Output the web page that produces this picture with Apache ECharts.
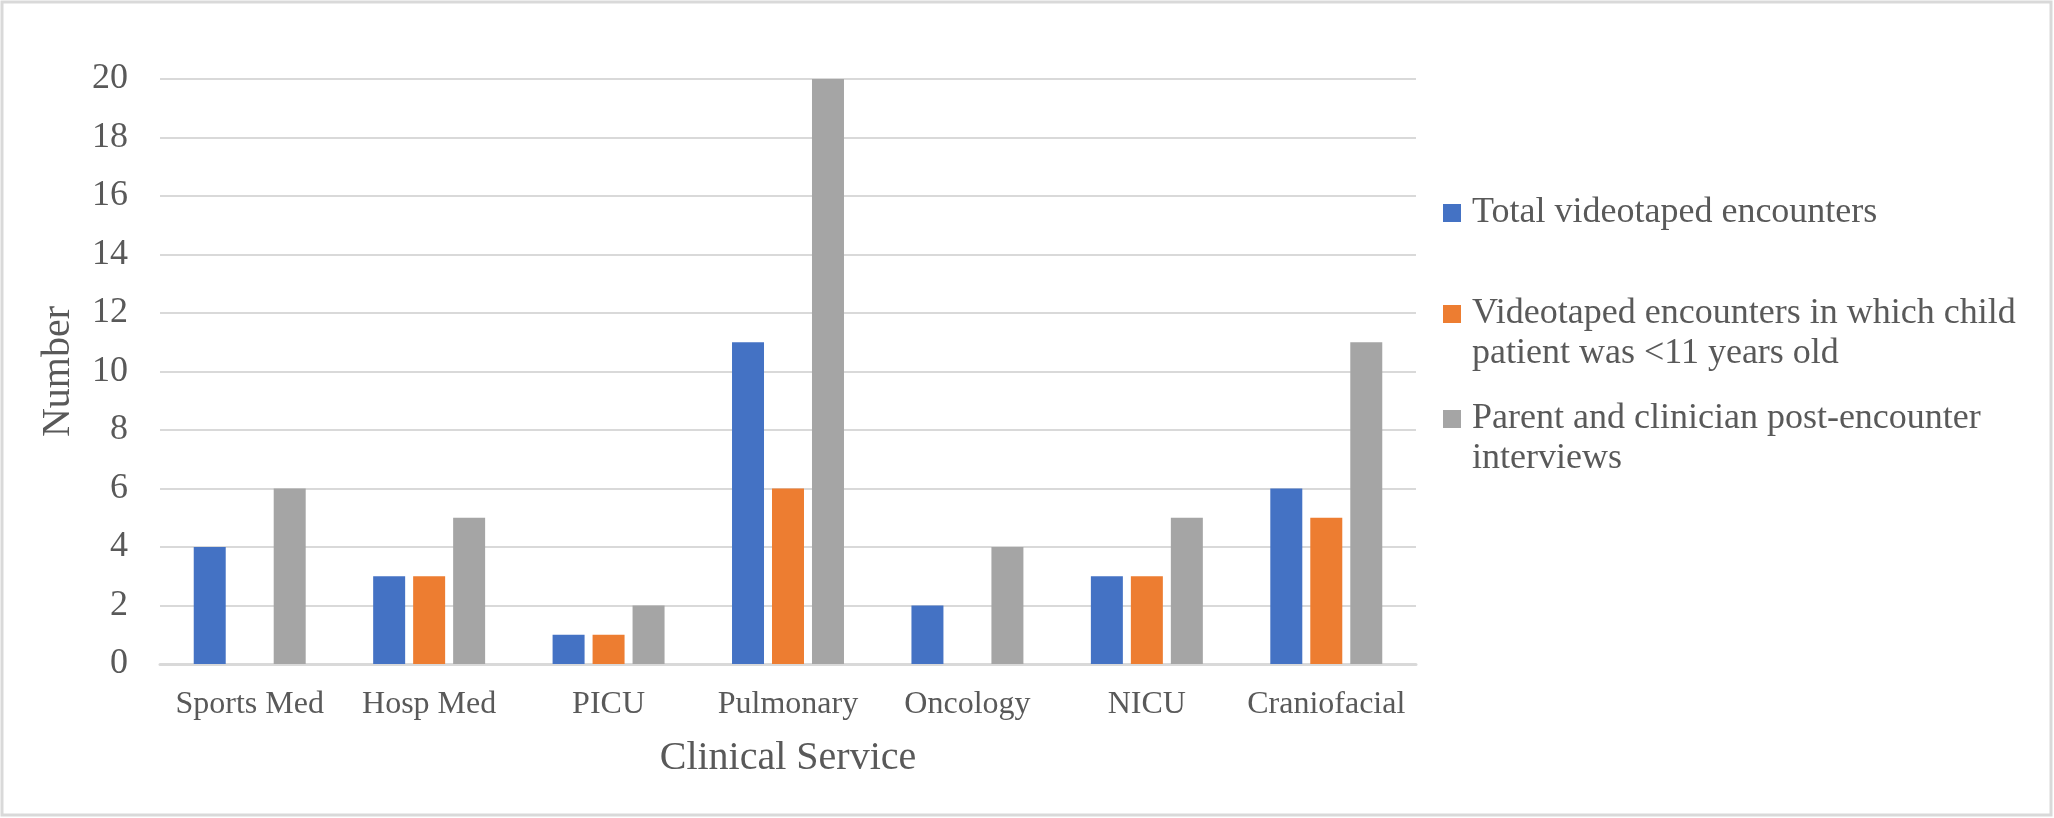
<!DOCTYPE html>
<html>
<head>
<meta charset="utf-8">
<script src="https://cdn.jsdelivr.net/npm/echarts@6/dist/echarts.min.js"></script>
<style>
html,body{margin:0;padding:0;background:#fff;}
#chart{width:2054px;height:818px;}
</style>
</head>
<body>
<div id="chart"></div>
<script>
var categories = ['Sports Med','Hosp Med','PICU','Pulmonary','Oncology','NICU','Craniofacial'];
var seriesNames = ['Total videotaped encounters','Videotaped encounters in which child patient was <11 years old','Parent and clinician post-encounter interviews'];
var legendLines = [['Total videotaped encounters'],['Videotaped encounters in which child','patient was <11 years old'],['Parent and clinician post-encounter','interviews']];
var totalEncounters = [4,3,1,11,2,3,6];
var under11Encounters = [0,3,1,6,0,3,5];
var interviews = [6,5,2,20,4,5,11];
var yTicks = [0,2,4,6,8,10,12,14,16,18,20];
var colors = ['#4472C4','#ED7D31','#A5A5A5'];

var font = "'Liberation Serif','Times New Roman',serif";
var txt = '#595959';
var chart = echarts.init(document.getElementById('chart'), null, {renderer:'canvas'});

function mkLegend(i, top){
  return {
    data:[seriesNames[i]],
    orient:'vertical',
    left:1443, top:top,
    padding:0,
    itemWidth:18, itemHeight:18,
    icon:'rect',
    formatter:function(){
      var l = legendLines[i];
      return l.length > 1 ? ' \n' + l.join('\n') : l[0];
    },
    textStyle:{fontFamily:font,fontSize:36,lineHeight:40,color:txt,padding:[0,0,0,6]}
  };
}

var option = {
  animation:false,
  backgroundColor:'#fff',
  color:colors,
  graphic:[{type:'rect',shape:{x:2,y:2,width:2049,height:813},style:{fill:'none',stroke:'#d9d9d9',lineWidth:3},silent:true}],
  legend:[mkLegend(0,193), mkLegend(1,254), mkLegend(2,359)],
  grid:{left:160,right:638,top:79,bottom:154,containLabel:false},
  xAxis:{
    type:'category',
    data:categories,
    name:'Clinical Service',
    nameLocation:'middle',
    nameGap:74,
    nameTextStyle:{fontFamily:font,fontSize:40,lineHeight:40,color:txt},
    axisLine:{lineStyle:{color:'#d9d9d9',width:3}},
    axisTick:{show:false},
    axisLabel:{fontFamily:font,fontSize:32,lineHeight:32,color:txt,margin:25,interval:0}
  },
  yAxis:{
    type:'value',
    min:0,max:20,interval:2,
    name:'Number',
    nameLocation:'middle',
    nameGap:82,
    nameRotate:90,
    nameTextStyle:{fontFamily:font,fontSize:40,lineHeight:40,color:txt},
    axisLine:{show:false},
    axisTick:{show:false},
    splitLine:{lineStyle:{color:'#d9d9d9',width:2}},
    axisLabel:{fontFamily:font,fontSize:36,color:txt,margin:32,
      formatter:function(v){ return yTicks.indexOf(v)>=0 ? String(v) : ''; }}
  },
  series:[
    {name:seriesNames[0],type:'bar',data:totalEncounters,barGap:'25%',barCategoryGap:'37.6%'},
    {name:seriesNames[1],type:'bar',data:under11Encounters,barGap:'25%',barCategoryGap:'37.6%'},
    {name:seriesNames[2],type:'bar',data:interviews,barGap:'25%',barCategoryGap:'37.6%'}
  ]
};
chart.setOption(option);
</script>
</body>
</html>
